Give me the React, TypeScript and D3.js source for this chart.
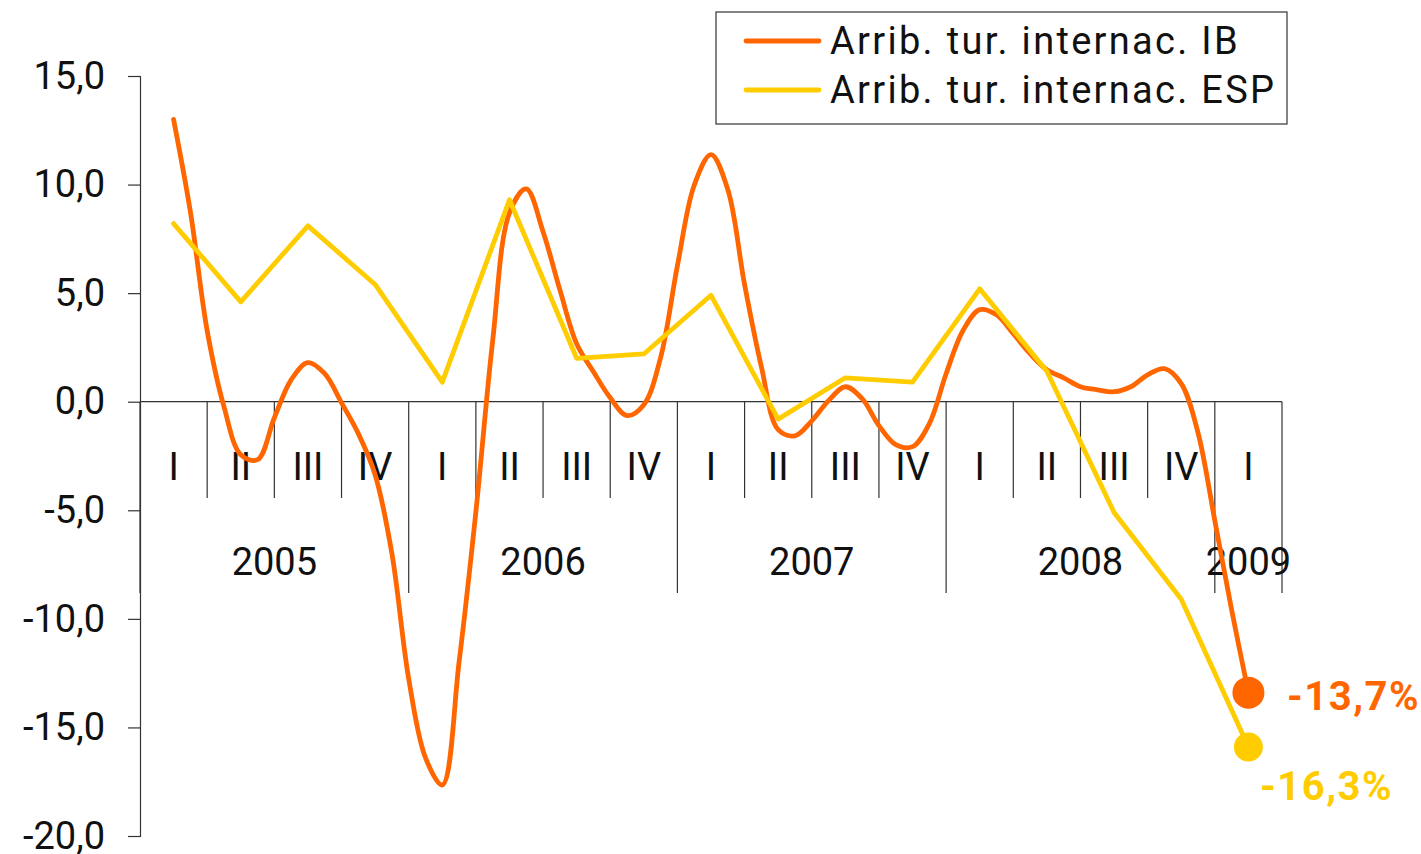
import React, { useEffect, useRef } from 'react';
import * as d3 from 'd3';

// quarters on the x axis
const quarters = ['I', 'II', 'III', 'IV', 'I', 'II', 'III', 'IV', 'I', 'II', 'III', 'IV', 'I', 'II', 'III', 'IV', 'I'];
const years = ['2005', '2006', '2007', '2008', '2009'];
const yearQuarters = [4, 4, 4, 4, 1];

// Spain: one value per quarter
const espValues = [8.2, 4.6, 8.1, 5.4, 0.9, 9.3, 2.0, 2.2, 4.9, -0.8, 1.1, 0.9, 5.2, 1.4, -5.1, -9.1, -15.9];

// Illes Balears: read at every quarter of a quarter, from I-2005 to I-2009
const ibStep = 0.25;
const ibValues = [
  13.0, 8.75, 3.27, -0.23, -2.44, -2.67, -0.74, 1.01,
  1.8, 1.29, -0.05, -1.47, -3.36, -7.0, -12.76, -16.4,
  -17.65, -11.98, -5.07, 2.81, 8.7, 9.8, 7.83, 5.16,
  2.67, 1.38, 0.18, -0.64, -0.14, 2.03, 6.26, 9.97,
  11.38, 9.77, 5.39, 1.61, -1.29, -1.57, -0.88, 0.05,
  0.69, 0.14, -1.1, -1.98, -2.07, -1.01, 1.29, 3.27,
  4.24, 4.0, 3.13, 2.21, 1.47, 1.1, 0.69, 0.55,
  0.46, 0.69, 1.24, 1.52, 0.83, -1.43, -5.48, -9.58,
  -13.4,
];

const yTicks = [15, 10, 5, 0, -5, -10, -15, -20];
const seriesNames = ['Arrib. tur. internac. IB', 'Arrib. tur. internac. ESP'];
const seriesColors = ['#FF6600', '#FFCC00'];
const endLabels = ['-13,7%', '-16,3%'];

const FONT = 'Roboto, "DejaVu Sans", sans-serif';

const App = () => {
  const ref = useRef<SVGSVGElement | null>(null);

  useEffect(() => {
    if (!ref.current) return;
    const svg = d3.select(ref.current);
    svg.selectAll('*').remove();

    const x = d3.scaleLinear().domain([0, quarters.length]).range([140, 1282]);
    const y = d3.scaleLinear().domain([-20, 15]).range([836, 76]);

    // y axis, comma decimals and a plain hyphen for the minus
    const yAxis = svg.append('g').attr('transform', 'translate(140,0)')
      .call(d3.axisLeft(y).tickValues(yTicks).tickSize(12).tickPadding(23)
        .tickFormat(d => d3.format('.1f')(d as number).replace('.', ',').replace('\u2212', '-')));
    yAxis.select('.domain').attr('stroke', '#333').attr('stroke-width', 1.2);
    yAxis.selectAll('.tick line').attr('stroke', '#333').attr('stroke-width', 1.2);
    yAxis.selectAll('.tick text').attr('font-family', FONT).attr('font-size', 38).attr('fill', '#111');

    // x axis line at zero
    svg.append('line')
      .attr('x1', x(0)).attr('x2', x(quarters.length))
      .attr('y1', y(0)).attr('y2', y(0))
      .attr('stroke', '#333').attr('stroke-width', 1.2);

    // quarter dividers and labels
    const yearStarts = [0];
    yearQuarters.forEach((n, i) => yearStarts.push(yearStarts[i] + n));
    d3.range(quarters.length + 1).forEach(i => {
      const isYear = yearStarts.includes(i);
      svg.append('line')
        .attr('x1', x(i)).attr('x2', x(i))
        .attr('y1', y(0)).attr('y2', isYear ? 593 : 498)
        .attr('stroke', '#333').attr('stroke-width', 1.2);
    });
    svg.selectAll('.qlabel').data(quarters).enter().append('text')
      .attr('x', (d, i) => x(i + 0.5)).attr('y', 480)
      .attr('text-anchor', 'middle')
      .attr('font-family', FONT).attr('font-size', 38).attr('fill', '#111')
      .text(d => d);
    svg.selectAll('.ylabel').data(years).enter().append('text')
      .attr('x', (d, i) => x((yearStarts[i] + yearStarts[i + 1]) / 2)).attr('y', 575)
      .attr('text-anchor', 'middle')
      .attr('font-family', FONT).attr('font-size', 38).attr('fill', '#111')
      .text(d => d);

    // IB line, smoothed
    const ibLine = d3.line<number>()
      .x((d, i) => x(0.5 + i * ibStep))
      .y(d => y(d))
      .curve(d3.curveCatmullRom.alpha(0.5));
    svg.append('path').datum(ibValues)
      .attr('d', ibLine)
      .attr('fill', 'none').attr('stroke', seriesColors[0]).attr('stroke-width', 4.8)
      .attr('stroke-linejoin', 'round').attr('stroke-linecap', 'round');

    // ESP line
    const espLine = d3.line<number>()
      .x((d, i) => x(i + 0.5))
      .y(d => y(d));
    svg.append('path').datum(espValues)
      .attr('d', espLine)
      .attr('fill', 'none').attr('stroke', seriesColors[1]).attr('stroke-width', 4.8)
      .attr('stroke-linejoin', 'round').attr('stroke-linecap', 'round');

    // end markers and labels
    const lastX = x(quarters.length - 0.5);
    const lastVals = [ibValues[ibValues.length - 1], espValues[espValues.length - 1]];
    svg.append('circle').attr('cx', lastX).attr('cy', y(lastVals[0])).attr('r', 16).attr('fill', seriesColors[0]);
    svg.append('circle').attr('cx', lastX).attr('cy', y(lastVals[1])).attr('r', 14.5).attr('fill', seriesColors[1]);
    svg.append('text').attr('x', 1287).attr('y', 710)
      .attr('font-family', FONT).attr('font-size', 40).attr('font-weight', 'bold')
      .attr('letter-spacing', 1.5).attr('fill', seriesColors[0]).text(endLabels[0]);
    svg.append('text').attr('x', 1260).attr('y', 800)
      .attr('font-family', FONT).attr('font-size', 40).attr('font-weight', 'bold')
      .attr('letter-spacing', 1.5).attr('fill', seriesColors[1]).text(endLabels[1]);

    // legend
    const legend = svg.append('g');
    legend.append('rect').attr('x', 716).attr('y', 12).attr('width', 571).attr('height', 112)
      .attr('fill', 'white').attr('stroke', '#333').attr('stroke-width', 1.2);
    seriesNames.forEach((name, i) => {
      const cy = 41 + i * 49;
      legend.append('line').attr('x1', 746).attr('x2', 819).attr('y1', cy).attr('y2', cy)
        .attr('stroke', seriesColors[i]).attr('stroke-width', 4.8).attr('stroke-linecap', 'round');
      legend.append('text').attr('x', 830).attr('y', cy + 13)
        .attr('font-family', FONT).attr('font-size', 38).attr('letter-spacing', 2.3).attr('fill', '#111')
        .text(name);
    });
  }, []);

  return (
    <svg ref={ref} width={1421} height={854}
      style={{ position: 'absolute', left: 0, top: 0, background: 'white' }} />
  );
};

export default App;
